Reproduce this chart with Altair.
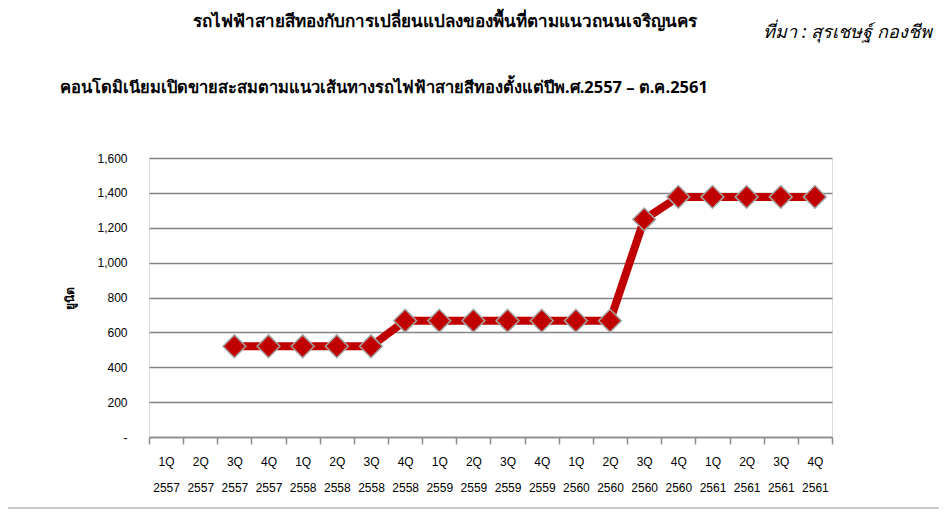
import altair as alt
import pandas as pd

quarters = ["1Q", "2Q", "3Q", "4Q", "1Q", "2Q", "3Q", "4Q", "1Q", "2Q", "3Q", "4Q",
            "1Q", "2Q", "3Q", "4Q", "1Q", "2Q", "3Q", "4Q"]
years = ["2557"] * 4 + ["2558"] * 4 + ["2559"] * 4 + ["2560"] * 4 + ["2561"] * 4
categories = [f"{q} {y}" for q, y in zip(quarters, years)]
units = [None, None, 520, 520, 520, 520, 520, 667, 667, 667, 667, 667, 667, 667,
         1248, 1377, 1377, 1377, 1377, 1377]

title_text = "รถไฟฟ้าสายสีทองกับการเปลี่ยนแปลงของพื้นที่ตามแนวถนนเจริญนคร"
source_text = "ที่มา : สุรเชษฐ์ กองชีพ"
subtitle_text = "คอนโดมิเนียมเปิดขายสะสมตามแนวเส้นทางรถไฟฟ้าสายสีทองตั้งแต่ปีพ.ศ.2557 – ต.ค.2561"
y_title = "ยูนิต"

df = pd.DataFrame({"cat": categories, "units": units}).dropna()

FONT = "Liberation Sans"
RED = "#c00000"

x_enc = alt.X(
    "cat:N",
    bandPosition=0.5,
    scale=alt.Scale(type="band", domain=categories, paddingInner=0, paddingOuter=0),
    axis=alt.Axis(
        title=None,
        labelAngle=0,
        labelExpr="split(datum.label, ' ')",
        labelLineHeight=26,
        labelFont=FONT,
        labelFontSize=12,
        labelColor="#000000",
        labelPadding=12,
        tickBand="extent",
        tickSize=7,
        tickColor="#8c8c8c",
        tickWidth=1.5,
        domainColor="#8c8c8c",
        domainWidth=1.5,
        grid=False,
    ),
)

y_enc = alt.Y(
    "units:Q",
    scale=alt.Scale(domain=[0, 1600], nice=False),
    axis=alt.Axis(
        title=y_title,
        titleFont=FONT,
        titleFontSize=12,
        titleFontWeight="bold",
        titleColor="#000000",
        titlePadding=20,
        values=[0, 200, 400, 600, 800, 1000, 1200, 1400, 1600],
        labelExpr="datum.value == 0 ? '-' : format(datum.value, ',')",
        labelFont=FONT,
        labelFontSize=12,
        labelColor="#000000",
        labelPadding=22,
        ticks=False,
        domain=False,
        grid=True,
        gridColor="#848484",
        gridWidth=1.5,
    ),
)

base = alt.Chart(df)
line = base.mark_line(color=RED, strokeWidth=8).encode(x=x_enc, y=y_enc)
points = base.mark_point(
    shape="diamond", filled=True, size=520, fill=RED, stroke="#a6a6a6",
    strokeWidth=1.5, opacity=1,
).encode(x=x_enc, y=y_enc)

title_layer = alt.Chart(pd.DataFrame({"t": [title_text]})).mark_text(
    font="Noto Sans", fontSize=17, fontWeight="bold", align="center",
    baseline="middle", color="#000000",
).encode(x=alt.value(296), y=alt.value(-136), text="t:N")

source_layer = alt.Chart(pd.DataFrame({"t": [source_text]})).mark_text(
    font="Noto Sans", fontSize=18, fontStyle="italic", align="right",
    baseline="middle", color="#000000",
).encode(x=alt.value(783), y=alt.value(-125), text="t:N")

subtitle_layer = alt.Chart(pd.DataFrame({"t": [subtitle_text]})).mark_text(
    font="Noto Sans", fontSize=16.5, fontWeight="bold", align="left",
    baseline="middle", color="#000000",
).encode(x=alt.value(-89), y=alt.value(-70), text="t:N")

bottom_rule = alt.Chart(pd.DataFrame({"t": [0]})).mark_rule(
    color="#c8c8c8", strokeWidth=2
).encode(x=alt.value(-141), x2=alt.value(790), y=alt.value(350))

chart = alt.layer(
    line, points, title_layer, source_layer, subtitle_layer, bottom_rule
).properties(
    width=683,
    height=279,
    padding={"left": 141, "top": 150, "right": 107, "bottom": 72},
    autosize=alt.AutoSizeParams(type="none"),
).configure_view(stroke=None).configure(background="#ffffff")

chart.save("out.html", embed_options={"renderer": "svg", "actions": False})
